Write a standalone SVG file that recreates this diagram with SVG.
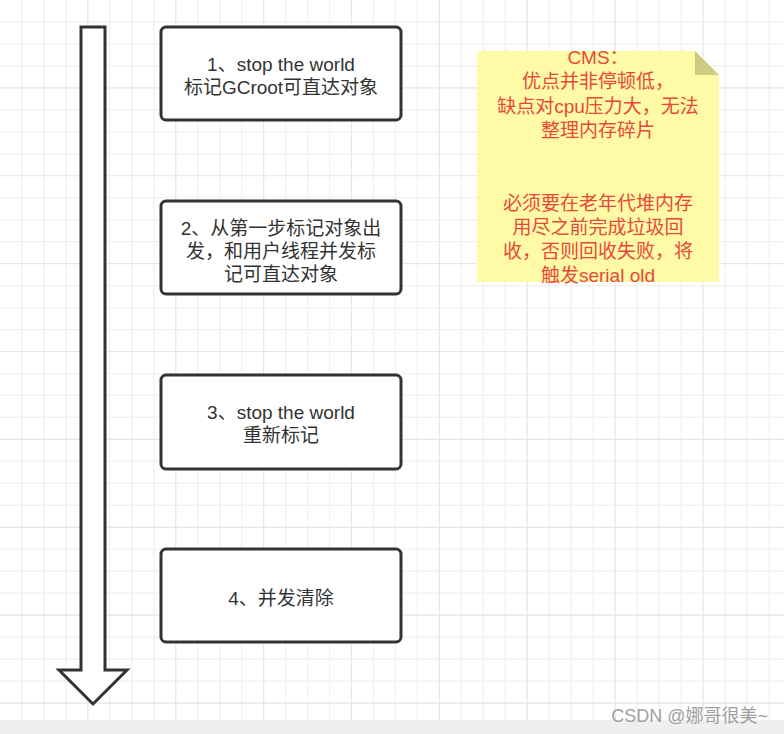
<svg xmlns="http://www.w3.org/2000/svg" width="784" height="734" viewBox="0 0 784 734">
<style>
.minor{fill:none;stroke:#f0f0f0;stroke-width:1.2}
.major{fill:none;stroke:#e6e6e6;stroke-width:1.2}
.box{fill:#ffffff;stroke:#333333;stroke-width:3}
.t{font-family:"Liberation Sans","Noto Sans CJK SC",sans-serif;font-size:19px;fill:#333333;text-anchor:middle}
.n{font-family:"Liberation Sans","Noto Sans CJK SC",sans-serif;font-size:19px;fill:#e8483c;text-anchor:middle}
</style>
<rect x="0" y="0" width="784" height="734" fill="#ffffff"/>
<g id="grid">
<path class="minor" d="M21.97 0V720M43.94 0V720M65.91 0V720M109.85 0V720M131.82 0V720M153.79 0V720M197.73 0V720M219.7 0V720M241.67 0V720M285.61 0V720M307.58 0V720M329.55 0V720M373.49 0V720M395.46 0V720M417.43 0V720M461.37 0V720M483.34 0V720M505.31 0V720M549.25 0V720M571.22 0V720M593.19 0V720M637.13 0V720M659.1 0V720M681.07 0V720M725.01 0V720M746.98 0V720M768.95 0V720"/>
<path class="minor" d="M0 21.97H784M0 43.94H784M0 65.91H784M0 109.85H784M0 131.82H784M0 153.79H784M0 197.73H784M0 219.7H784M0 241.67H784M0 285.61H784M0 307.58H784M0 329.55H784M0 373.49H784M0 395.46H784M0 417.43H784M0 461.37H784M0 483.34H784M0 505.31H784M0 549.25H784M0 571.22H784M0 593.19H784M0 637.13H784M0 659.1H784M0 681.07H784"/>
<path class="major" d="M87.88 0V720M175.76 0V720M263.64 0V720M351.52 0V720M439.4 0V720M527.28 0V720M615.16 0V720M703.04 0V720M0 87.88H784M0 175.76H784M0 263.64H784M0 351.52H784M0 439.4H784M0 527.28H784M0 615.16H784M0 703.04H784"/>
<rect x="0" y="720" width="784" height="14" fill="#efefef"/>
</g>
<g id="connectors">
<path id="timeline-arrow" d="M81 27H105V670H127L93 704L59 670H81Z" fill="#ffffff" stroke="#333333" stroke-width="3" stroke-linejoin="miter"/>
</g>
<g id="step1">
<rect class="box" x="161" y="27" width="240" height="93" rx="5"/>
<text class="t" x="281" y="70.5">1、stop the world</text>
<text class="t" x="281" y="93.5">标记GCroot可直达对象</text>
</g>
<g id="step2">
<rect class="box" x="161" y="201" width="240" height="93" rx="5"/>
<text class="t" x="281" y="234.5">2、从第一步标记对象出</text>
<text class="t" x="281" y="257.5">发，和用户线程并发标</text>
<text class="t" x="281" y="280.5">记可直达对象</text>
</g>
<g id="step3">
<rect class="box" x="161" y="375" width="240" height="94" rx="5"/>
<text class="t" x="281" y="418.5">3、stop the world</text>
<text class="t" x="281" y="441.5">重新标记</text>
</g>
<g id="step4">
<rect class="box" x="161" y="549" width="240" height="93" rx="5"/>
<text class="t" x="281" y="604.5">4、并发清除</text>
</g>
<g id="cms-note">
<path d="M477 51H695L719 75V282H477Z" fill="#fffaa6"/>
<path d="M695 51V75H719Z" fill="#cccb80"/>
<text class="n" x="598" y="63.5">CMS：</text>
<text class="n" x="598" y="88">优点并非停顿低，</text>
<text class="n" x="598" y="112.5">缺点对cpu压力大，无法</text>
<text class="n" x="598" y="136.5">整理内存碎片</text>
<text class="n" x="598" y="210">必须要在老年代堆内存</text>
<text class="n" x="598" y="234">用尽之前完成垃圾回</text>
<text class="n" x="598" y="258">收，否则回收失败，将</text>
<text class="n" x="598" y="282">触发serial old</text>
</g>
<text x="768" y="722" font-family="Liberation Sans,Noto Sans CJK SC,sans-serif" font-size="18" fill="#a0a0a0" text-anchor="end">CSDN @娜哥很美~</text>
</svg>
